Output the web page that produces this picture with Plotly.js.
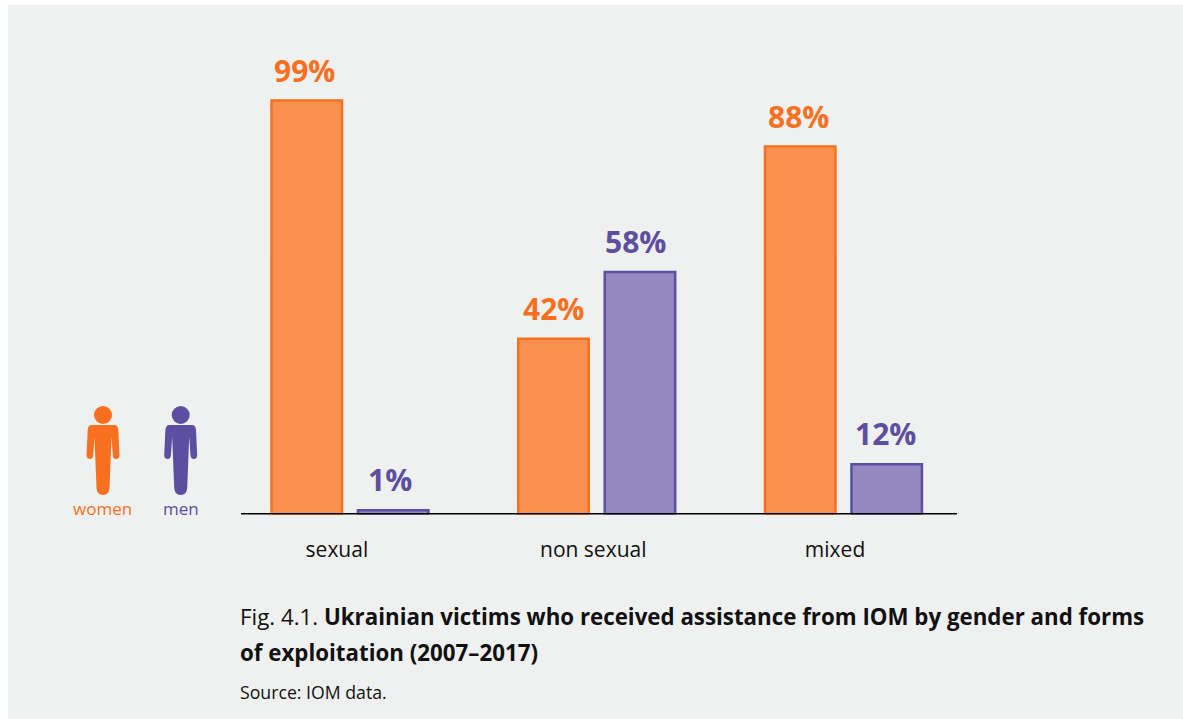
<!DOCTYPE html>
<html>
<head>
<meta charset="utf-8">
<script src="https://cdn.plot.ly/plotly-3.0.1.min.js"></script>
<style>html,body{margin:0;padding:0;background:#fff}#chart{width:1183px;height:719px}</style>
</head>
<body>
<div id="chart"></div>
<script>
const categories = ['sexual', 'non sexual', 'mixed'];
const women = [99, 42, 88];
const men = [1, 58, 12];
const seriesNames = ['women', 'men'];
const groupIndex = [0, 1, 2];
const tickNudge = [-0.053, -0.014, -0.034];
const womenLabelShift = [-2, 0, -2];
const menLabelShift = [-3.5, -4, -1.5];

const W = 1183, H = 719;
const ORANGE = '#f8701f', ORANGE_FILL = '#f89150', PURPLE = '#5c4f9f', PURPLE_FILL = '#9587c1', PANEL = '#eff0f0';
const FONT = '"Open Sans", "Noto Sans", sans-serif';
const px = x => x / W, py = y => 1 - y / H;

function figure(dx) {
  const p = [['M',92,425],['L',114,425],['Q',118,425,118.3,430],['L',119.5,455],['Q',119.5,459,116,459],['Q',113,459,112.8,455],
    ['L',111.5,437],['L',109.5,488],['Q',109,495,103,495],['Q',97,495,96.5,488],['L',94.5,437],['L',93.2,455],['Q',93,459,90,459],
    ['Q',86.5,459,86.5,455],['L',87.7,430],['Q',88,425,92,425]];
  return p.map(s => {
    let o = s[0];
    for (let i = 1; i < s.length; i += 2) o += ' ' + px(s[i] + dx).toFixed(5) + ',' + py(s[i + 1]).toFixed(5);
    return o;
  }).join(' ') + ' Z';
}
function personShapes(dx, color) {
  return [
    {type:'path', xref:'paper', yref:'paper', path:figure(dx), fillcolor:color, line:{width:0}, layer:'above'},
    {type:'circle', xref:'paper', yref:'paper', x0:px(94+dx), x1:px(112+dx), y0:py(424), y1:py(406), fillcolor:color, line:{width:0}, layer:'above'}
  ];
}

const barTrace = (name, values, fill, line) => ({
  type:'bar', name, x:groupIndex, y:values,
  marker:{color:fill, line:{color:line, width:2.5}},
  hoverinfo:'skip', cliponaxis:false
});

const halfSlot = 0.1753;
const valueLabels = (values, off, color, shifts, lift) => values.map((v, i) => ({
  xref:'x', yref:'y', x:i + off, y:v, xshift:shifts[i], yshift:lift, yanchor:'bottom', showarrow:false,
  text:'<b>' + v + '%</b>', font:{family:FONT, size:30, color}
}));
const note = (x, y, text, size, color, anchor) => ({
  xref:'paper', yref:'paper', x:px(x), y:py(y), xanchor:anchor || 'left', yanchor:'middle',
  showarrow:false, text, align:'left', font:{family:FONT, size, color}
});

const layout = {
  width:W, height:H, margin:{l:0, r:0, t:0, b:0, pad:0},
  paper_bgcolor:'#ffffff', plot_bgcolor:'rgba(0,0,0,0)',
  showlegend:false, barmode:'group', bargap:0.299, bargroupgap:0.185,
  xaxis:{domain:[px(241), px(957)], range:[-0.4417, 2.4602], tickmode:'array',
    tickvals:groupIndex.map((g, i) => g + tickNudge[i]), ticktext:categories,
    showline:false, showgrid:false, zeroline:false, ticks:'', ticklabelstandoff:21,
    tickfont:{family:FONT, size:21, color:'#111'}, fixedrange:true},
  yaxis:{domain:[py(514.4), py(54.6)], range:[0, 110], visible:false, fixedrange:true},
  shapes:[
    {type:'rect', xref:'paper', yref:'paper', x0:px(8), x1:1, y0:0, y1:py(5), fillcolor:PANEL, line:{width:0}, layer:'below'},
    {type:'line', xref:'paper', x0:px(241), x1:px(957), yref:'y', y0:0, y1:0, line:{color:'#000', width:2.6}, layer:'above'},
    ...personShapes(0, ORANGE), ...personShapes(77.7, PURPLE)
  ],
  annotations:[
    ...valueLabels(women, -halfSlot, ORANGE, womenLabelShift, 8), ...valueLabels(men, halfSlot, PURPLE, menLabelShift, 8),
    note(102.5, 508, seriesNames[0], 17, ORANGE, 'center'),
    note(180.5, 508, seriesNames[1], 17, PURPLE, 'center'),
    note(238, 616, 'Fig. 4.1. <b>Ukrainian victims who received assistance from IOM by gender and forms</b>', 22.3, '#111'),
    note(238, 652, '<b>of exploitation (2007–2017)</b>', 22.3, '#111'),
    note(238, 692, 'Source: IOM data.', 17.7, '#111')
  ]
};

Plotly.newPlot('chart', [barTrace(seriesNames[0], women, ORANGE_FILL, ORANGE), barTrace(seriesNames[1], men, PURPLE_FILL, PURPLE)], layout, {displayModeBar:false, staticPlot:true});
</script>
</body>
</html>
